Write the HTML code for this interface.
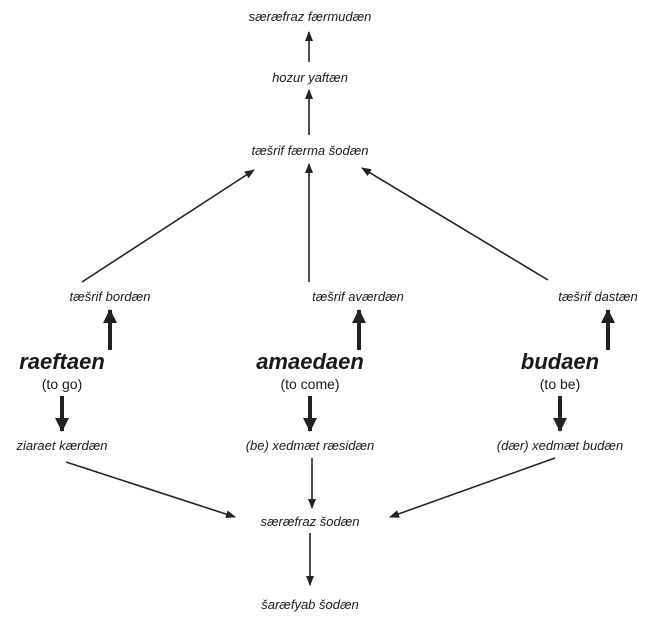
<!DOCTYPE html>
<html><head><style>
body{margin:0;background:#fff;}
.c{position:absolute;width:670px;height:618px;left:0;top:0;}
svg text{font-family:"Liberation Sans",sans-serif;fill:#1a1a1a;}
.i{font-style:italic;font-size:13px;}
.b{font-style:italic;font-weight:bold;font-size:22px;}
.n{font-size:14px;}
</style></head><body>
<svg class="c" width="670" height="618" viewBox="0 0 670 618">
<defs>
<marker id="a" markerWidth="10" markerHeight="10" refX="9" refY="4" orient="auto" markerUnits="userSpaceOnUse"><path d="M0,0 L10,4 L0,8 z" fill="#222"/></marker>
<marker id="t" markerWidth="14" markerHeight="16" refX="13" refY="7" orient="auto" markerUnits="userSpaceOnUse"><path d="M0,0 L14,7 L0,14 z" fill="#222"/></marker>
</defs>
<g text-anchor="middle">
<text class="i" x="310" y="21">særæfraz færmudæn</text>
<text class="i" x="310" y="82">hozur yaftæn</text>
<text class="i" x="310" y="155">tæšrif færma šodæn</text>
<text class="i" x="110" y="301">tæšrif bordæn</text>
<text class="i" x="358" y="301">tæšrif aværdæn</text>
<text class="i" x="598" y="301">tæšrif dastæn</text>
<text class="b" x="62" y="369">raeftaen</text>
<text class="n" x="62" y="389">(to go)</text>
<text class="b" x="310" y="369">amaedaen</text>
<text class="n" x="310" y="389">(to come)</text>
<text class="b" x="560" y="369">budaen</text>
<text class="n" x="560" y="389">(to be)</text>
<text class="i" x="62" y="450">ziaraet kærdæn</text>
<text class="i" x="310" y="450">(be) xedmæt ræsidæn</text>
<text class="i" x="560" y="450">(dær) xedmæt budæn</text>
<text class="i" x="310" y="526">særæfraz šodæn</text>
<text class="i" x="310" y="609">šaræfyab šodæn</text>
</g>
<g stroke="#222" stroke-width="1.6" fill="none">
<line x1="309" y1="62" x2="309" y2="32" marker-end="url(#a)"/>
<line x1="309" y1="135" x2="309" y2="90" marker-end="url(#a)"/>
<line x1="309" y1="282" x2="309" y2="164" marker-end="url(#a)"/>
<line x1="82" y1="282" x2="254" y2="170" marker-end="url(#a)"/>
<line x1="548" y1="280" x2="362" y2="168" marker-end="url(#a)"/>
<line x1="312" y1="458" x2="312" y2="508" marker-end="url(#a)"/>
<line x1="66" y1="462" x2="235" y2="517" marker-end="url(#a)"/>
<line x1="555" y1="458" x2="390" y2="517" marker-end="url(#a)"/>
<line x1="310" y1="533" x2="310" y2="585" marker-end="url(#a)"/>
</g>
<g stroke="#222" stroke-width="4" fill="none">
<line x1="110" y1="350" x2="110" y2="310" marker-end="url(#t)"/>
<line x1="359" y1="350" x2="359" y2="310" marker-end="url(#t)"/>
<line x1="608" y1="350" x2="608" y2="310" marker-end="url(#t)"/>
<line x1="62" y1="396" x2="62" y2="431" marker-end="url(#t)"/>
<line x1="310" y1="396" x2="310" y2="431" marker-end="url(#t)"/>
<line x1="560" y1="396" x2="560" y2="431" marker-end="url(#t)"/>
</g>
</svg>
</body></html>
